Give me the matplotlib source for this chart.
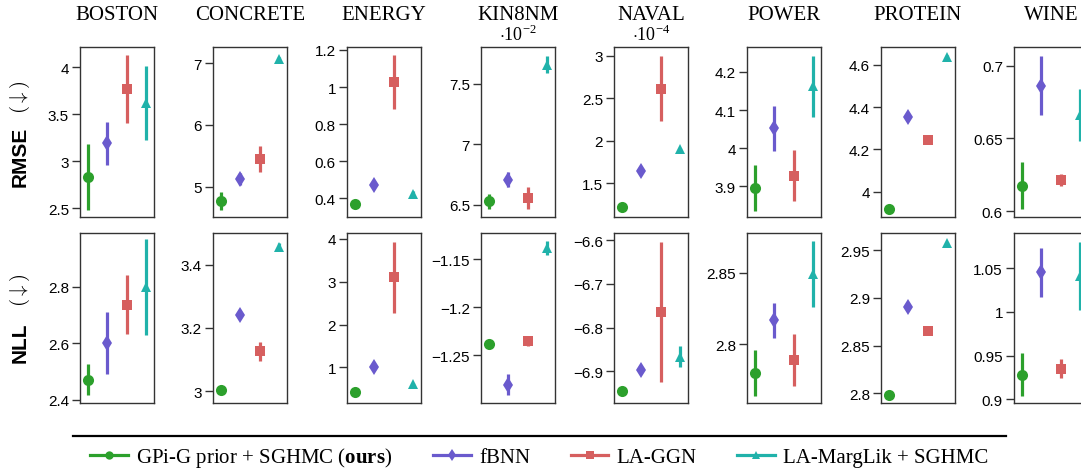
import matplotlib
matplotlib.use("Agg")
import matplotlib.pyplot as plt
from matplotlib.lines import Line2D

plt.rcParams['mathtext.fontset'] = 'custom'
plt.rcParams['mathtext.rm'] = 'Liberation Serif'
plt.rcParams['mathtext.bf'] = 'Liberation Serif:bold'
plt.rcParams['axes.unicode_minus'] = True

datasets = ['BOSTON', 'CONCRETE', 'ENERGY', 'KIN8NM', 'NAVAL', 'POWER', 'PROTEIN', 'WINE']
offsets = ['', '', '', r'$\cdot 10^{-2}$', r'$\cdot 10^{-4}$', '', '', '']

methods = ['GPi-G prior + SGHMC ($\\mathbf{ours}$)', 'fBNN', 'LA-GGN', 'LA-MargLik + SGHMC']
colors = ['#2ca02c', '#6a5acd', '#d65f5f', '#20b2aa']
markers = ['o', 'd', 's', '^']
msizes = [8, 8.5, 7.5, 7]

# RMSE, one row per dataset, methods in the order above
rmse_mean = [
    [2.83, 3.19, 3.77, 3.62],
    [4.77, 5.12, 5.45, 7.07],
    [0.368, 0.474, 1.026, 0.425],
    [6.53, 6.71, 6.56, 7.66],
    [1.22, 1.64, 2.61, 1.90],
    [3.897, 4.052, 3.928, 4.162],
    [3.92, 4.353, 4.243, 4.64],
    [0.6175, 0.6863, 0.6215, 0.666],
]
rmse_err = [
    [0.35, 0.23, 0.36, 0.39],
    [0.14, 0.10, 0.21, 0.03],
    [0.01, 0.01, 0.145, 0.015],
    [0.06, 0.06, 0.09, 0.07],
    [0.01, 0.01, 0.38, 0.01],
    [0.06, 0.058, 0.067, 0.08],
    [0.005, 0.005, 0.005, 0.005],
    [0.016, 0.02, 0.004, 0.018],
]
nll_mean = [
    [2.471, 2.60, 2.736, 2.80],
    [3.004, 3.241, 3.126, 3.457],
    [0.416, 1.015, 3.10, 0.61],
    [-1.2383, -1.2805, -1.2349, -1.1386],
    [-6.944, -6.896, -6.765, -6.866],
    [2.780, 2.8168, 2.789, 2.8495],
    [2.798, 2.891, 2.865, 2.958],
    [0.9285, 1.045, 0.935, 1.041],
]
nll_err = [
    [0.055, 0.11, 0.105, 0.17],
    [0.005, 0.01, 0.03, 0.01],
    [0.02, 0.02, 0.83, 0.02],
    [0.002, 0.011, 0.005, 0.007],
    [0.005, 0.005, 0.16, 0.023],
    [0.016, 0.0125, 0.018, 0.023],
    [0.001, 0.001, 0.001, 0.001],
    [0.024, 0.028, 0.011, 0.039],
]

rmse_ticks = [[2.5, 3, 3.5, 4], [5, 6, 7], [0.4, 0.6, 0.8, 1, 1.2], [6.5, 7, 7.5],
              [1.5, 2, 2.5, 3], [3.9, 4, 4.1, 4.2], [4, 4.2, 4.4, 4.6], [0.6, 0.65, 0.7]]
nll_ticks = [[2.4, 2.6, 2.8], [3, 3.2, 3.4], [1, 2, 3, 4], [-1.25, -1.2, -1.15],
             [-6.9, -6.8, -6.7, -6.6], [2.8, 2.85], [2.8, 2.85, 2.9, 2.95], [0.9, 0.95, 1, 1.05]]
rmse_ylim = [(2.407, 4.216), (4.51, 7.26), (0.30, 1.216), (6.40, 7.806),
             (1.104, 3.10), (3.82, 4.265), (3.88, 4.685), (0.596, 0.7128)]
nll_ylim = [(2.388, 2.99), (2.963, 3.50), (0.166, 4.14), (-1.2995, -1.123),
            (-6.972, -6.584), (2.759, 2.878), (2.79, 2.968), (0.896, 1.09)]

W, H = 1081, 477
fig = plt.figure(figsize=(W / 100, H / 100), dpi=100)

col_left = [80, 213, 347, 481, 614, 747, 881, 1014]
ax_w = 74
rows = [(48, 218), (234, 404)]

def fmt(v):
    s = f'{v:g}'
    return s.replace('-', '\u2212')

def draw(ax, means, errs, ticks, ylim):
    for j in range(4):
        ax.errorbar(j, means[j], yerr=errs[j], fmt=markers[j], color=colors[j],
                    ms=msizes[j], elinewidth=2.3, capsize=0, mew=0)
    ax.set_xlim(-0.42, 3.42)
    ax.set_ylim(*ylim)
    ax.set_xticks([])
    ax.set_yticks(ticks)
    ax.set_yticklabels([fmt(t) for t in ticks], family='Liberation Sans', fontsize=11)
    ax.tick_params(axis='y', length=6, width=1, color='#333333', pad=2)
    for sp in ax.spines.values():
        sp.set_color('#333333')
        sp.set_linewidth(1)

for i, name in enumerate(datasets):
    x0 = col_left[i] / W
    for r, (top, bot) in enumerate(rows):
        ax = fig.add_axes([x0, 1 - bot / H, ax_w / W, (bot - top) / H])
        if r == 0:
            draw(ax, rmse_mean[i], rmse_err[i], rmse_ticks[i], rmse_ylim[i])
        else:
            draw(ax, nll_mean[i], nll_err[i], nll_ticks[i], nll_ylim[i])
    xc = (col_left[i] + ax_w / 2) / W
    fig.text(xc, 1 - 15 / H, name, ha='center', va='center',
             family='Liberation Serif', fontsize=15)
    if offsets[i]:
        fig.text(xc, 1 - 35 / H, offsets[i], ha='center', va='center', fontsize=13)

# row labels
fig.text(20 / W, 1 - 157 / H, 'RMSE', rotation=90, ha='center', va='center',
         family='Liberation Sans', fontweight='bold', fontsize=15)
fig.text(20 / W, 1 - 97 / H, r'$(\downarrow)$', rotation=90, ha='center', va='center',
         math_fontfamily='cm', fontsize=15)
fig.text(20 / W, 1 - 343 / H, 'NLL', rotation=90, ha='center', va='center',
         family='Liberation Sans', fontweight='bold', fontsize=15)
fig.text(20 / W, 1 - 290 / H, r'$(\downarrow)$', rotation=90, ha='center', va='center',
         math_fontfamily='cm', fontsize=15)

# legend with a rule above it
fig.add_artist(Line2D([73 / W, 1006 / W], [1 - 437 / H] * 2, transform=fig.transFigure,
                      color='black', lw=1.6))
handles = [Line2D([], [], color=c, marker=m, lw=2.3, ms=6, mew=0)
           for c, m in zip(colors, markers)]
fig.legend(handles, methods, ncol=4, loc='center', bbox_to_anchor=(0.499, 1 - 458 / H),
           frameon=False, prop={'family': 'Liberation Serif', 'size': 15},
           handlelength=1.8, handletextpad=0.4, columnspacing=1.95, borderpad=0)

fig.savefig('out.png', dpi=100)
